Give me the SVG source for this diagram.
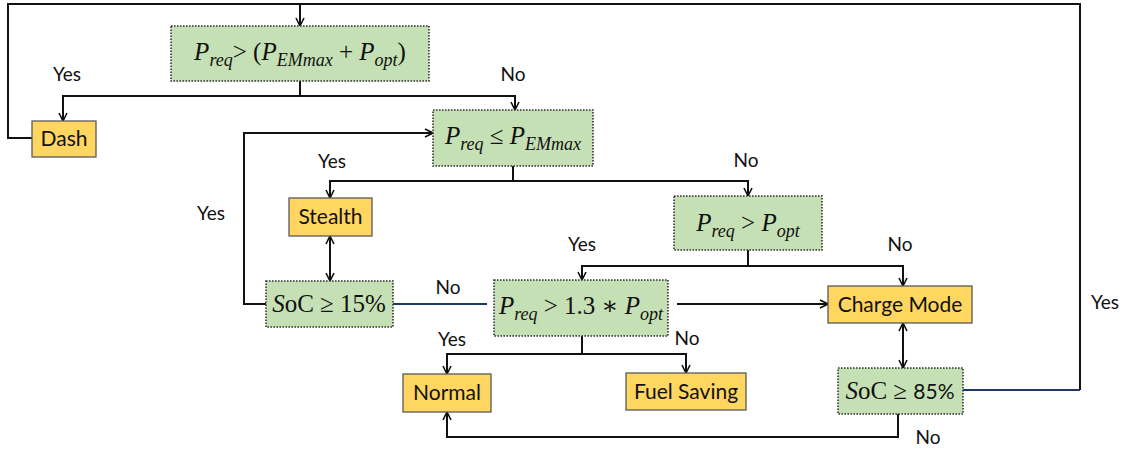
<svg xmlns="http://www.w3.org/2000/svg" width="1124" height="450" viewBox="0 0 1124 450">
<defs>
<marker id="arr" viewBox="0 0 10 10" refX="9" refY="5" markerWidth="10" markerHeight="10" markerUnits="userSpaceOnUse" orient="auto-start-reverse">
<path d="M1,1 L9,5 L1,9" fill="none" stroke="#111" stroke-width="1.6"/>
</marker>
<style>
.bg{fill:#ffffff}
.g{fill:#C5E0B4;stroke:#333;stroke-width:1.6;stroke-dasharray:1.6 1.4}
.y{fill:#FFD660;stroke:#5a5a5a;stroke-width:1.3}
.c{fill:none;stroke:#111;stroke-width:2}
.n{fill:none;stroke:#203864;stroke-width:2}
.a{marker-end:url(#arr)}
.b{marker-start:url(#arr);marker-end:url(#arr)}
.m{font-family:"Liberation Serif","DejaVu Serif",serif;font-size:25px;fill:#111}
.i{font-style:italic}
.s{font-style:italic;font-size:18px}
.t{font-family:Lato,"Liberation Sans",sans-serif;font-size:21px;fill:#111}
.l{font-family:Lato,"Liberation Sans",sans-serif;font-size:19px;fill:#111}
</style>
</defs>
<rect class="bg" x="0" y="0" width="1124" height="450"/>
<g id="connectors">
<path class="n" d="M963 390 H1080"/>
<path class="c" d="M1080 390 V4 H8 V138 H32"/>
<path class="c a" d="M300 4 V26"/>
<path class="c a" d="M300 81 V96 H63 V121"/>
<path class="c a" d="M300 96 H515 V110"/>
<path class="c a" d="M266 304 H244 V133 H433"/>
<path class="c a" d="M513 166 V181 H330 V198"/>
<path class="c a" d="M513 181 H748 V196"/>
<path class="c b" d="M330 236 V281"/>
<path class="n" d="M393 304 H487"/>
<path class="c a" d="M748 250 V266 H582 V280"/>
<path class="c a" d="M748 266 H903 V286"/>
<path class="c a" d="M677 304 H828"/>
<path class="c a" d="M582 336 V354 H447 V374"/>
<path class="c a" d="M582 354 H686 V373"/>
<path class="c b" d="M903 323 V368"/>
<path class="c a" d="M898 414 V437 H447 V412"/>
</g>
<g id="labels">
<text class="l" x="67" y="81" text-anchor="middle">Yes</text>
<text class="l" x="513" y="81" text-anchor="middle">No</text>
<text class="l" x="332" y="168" text-anchor="middle">Yes</text>
<text class="l" x="746" y="167" text-anchor="middle">No</text>
<text class="l" x="211" y="220" text-anchor="middle">Yes</text>
<text class="l" x="448" y="294" text-anchor="middle">No</text>
<text class="l" x="582" y="251" text-anchor="middle">Yes</text>
<text class="l" x="900" y="251" text-anchor="middle">No</text>
<text class="l" x="452" y="346" text-anchor="middle">Yes</text>
<text class="l" x="687" y="345" text-anchor="middle">No</text>
<text class="l" x="1105" y="309" text-anchor="middle">Yes</text>
<text class="l" x="928" y="444" text-anchor="middle">No</text>
</g>
<g id="n1">
<rect class="g" x="171" y="26" width="258" height="55"/>
<text class="m" x="300" y="60" text-anchor="middle"><tspan class="i">P</tspan><tspan class="s" dy="6">req</tspan><tspan dy="-6">&gt; (</tspan><tspan class="i">P</tspan><tspan class="s" dy="6">EMmax</tspan><tspan dy="-6"> + </tspan><tspan class="i">P</tspan><tspan class="s" dy="6">opt</tspan><tspan dy="-6">)</tspan></text>
</g>
<g id="n2">
<rect class="g" x="433" y="110" width="160" height="56"/>
<text class="m" x="513" y="144" text-anchor="middle"><tspan class="i">P</tspan><tspan class="s" dy="6">req</tspan><tspan dy="-6"> ≤ </tspan><tspan class="i">P</tspan><tspan class="s" dy="6">EMmax</tspan></text>
</g>
<g id="n3">
<rect class="g" x="674" y="196" width="148" height="54"/>
<text class="m" x="748" y="231" text-anchor="middle"><tspan class="i">P</tspan><tspan class="s" dy="6">req</tspan><tspan dy="-6"> &gt; </tspan><tspan class="i">P</tspan><tspan class="s" dy="6">opt</tspan></text>
</g>
<g id="n4">
<rect class="g" x="494" y="280" width="174" height="56"/>
<text class="m" x="581" y="314" text-anchor="middle"><tspan class="i">P</tspan><tspan class="s" dy="6">req</tspan><tspan dy="-6"> &gt; 1.3  ∗ </tspan><tspan class="i">P</tspan><tspan class="s" dy="6">opt</tspan></text>
</g>
<g id="n5">
<rect class="g" x="266" y="281" width="127" height="46"/>
<text class="m" x="329" y="312" text-anchor="middle"><tspan class="i">S</tspan>oC ≥ 15%</text>
</g>
<g id="n6">
<rect class="g" x="838" y="368" width="125" height="46"/>
<text class="m" x="900" y="399" text-anchor="middle"><tspan class="i">S</tspan>oC ≥ <tspan class="t" font-size="22">85%</tspan></text>
</g>
<g id="dash">
<rect class="y" x="32" y="121" width="64" height="36"/>
<text class="t" x="64" y="146" text-anchor="middle">Dash</text>
</g>
<g id="stealth">
<rect class="y" x="289" y="198" width="83" height="38"/>
<text class="t" x="330.5" y="224" text-anchor="middle">Stealth</text>
</g>
<g id="charge">
<rect class="y" x="828" y="286" width="144" height="37"/>
<text class="t" x="900" y="312" text-anchor="middle">Charge Mode</text>
</g>
<g id="normal">
<rect class="y" x="403" y="374" width="88" height="38"/>
<text class="t" x="447" y="400" text-anchor="middle">Normal</text>
</g>
<g id="fuel">
<rect class="y" x="626" y="373" width="120" height="37"/>
<text class="t" x="686" y="399" text-anchor="middle">Fuel Saving</text>
</g>
</svg>
